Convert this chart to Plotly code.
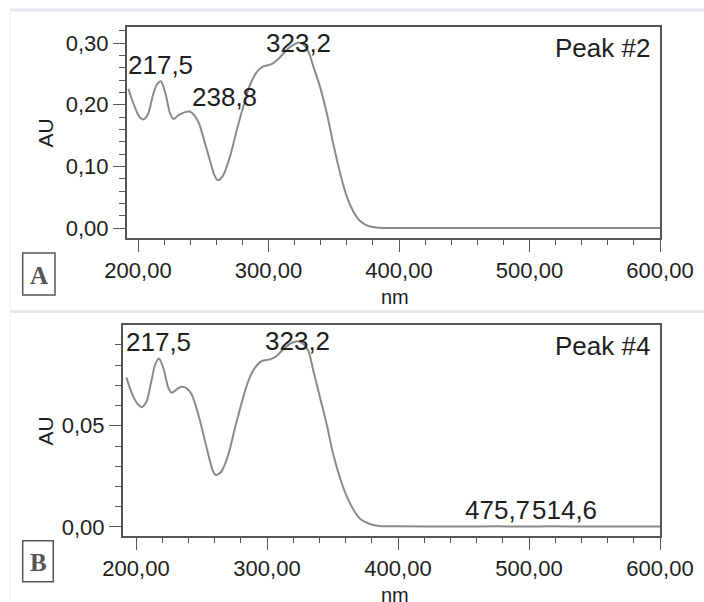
import numpy as np
import plotly.graph_objects as go

# ---------------- data ----------------
wl_A = [192.6, 196.5, 200.3, 202.2, 204.1, 206.0, 207.9, 211.8, 214.5, 217.5, 220.7, 224.6, 227.1, 231.0,
        236.1, 238.8, 241.2, 246.3, 251.4, 256.5, 258.6, 260.8, 263.0, 265.4, 270.5, 275.7, 280.7, 285.8,
        291.0, 296.0, 302.5, 307.5, 312.7, 317.5, 323.2, 327.5, 330.6, 334.4, 339.5, 344.7,
        349.8, 354.9, 360.0, 365.0, 370.2, 376.5, 384.2, 400, 450, 500, 550, 600]
au_A = [0.226, 0.202, 0.183, 0.178, 0.176, 0.179, 0.186, 0.218, 0.233, 0.238, 0.221, 0.186, 0.177, 0.183,
        0.188, 0.189, 0.187, 0.172, 0.137, 0.0995, 0.0855, 0.078, 0.0795, 0.086, 0.116, 0.159, 0.197, 0.232,
        0.253, 0.262, 0.266, 0.274, 0.286, 0.295, 0.301, 0.296, 0.286, 0.262, 0.229, 0.186,
        0.135, 0.089, 0.051, 0.027, 0.0115, 0.0034, 0.0008, 0.0003, 0.0002, 0.0002, 0.0001, 0.0001]

wl_B = [192.7, 196.7, 200.5, 202.5, 204.4, 206.3, 208.2, 212.0, 214.5, 217.5, 220.8, 224.7, 227.2, 231.1,
        234.9, 238.7, 242.5, 247.6, 252.7, 256.5, 258.8, 261.1, 263.2, 265.4, 270.5, 275.6, 280.7, 285.7,
        290.8, 295.9, 302.3, 307.4, 312.4, 317.5, 323.2, 327.5, 331.6, 335.4, 340.5, 345.6,
        350.6, 355.7, 360.8, 365.9, 371.0, 378.6, 385.9, 400, 450, 475.7, 500, 514.6, 550, 600]
au_B = [0.0738, 0.0663, 0.0614, 0.0600, 0.0592, 0.0602, 0.0622, 0.0729, 0.0800, 0.0833, 0.0787, 0.0688, 0.0663, 0.0680,
        0.0693, 0.0685, 0.0655, 0.0556, 0.0424, 0.0325, 0.0275, 0.0256, 0.0262, 0.0276, 0.0358, 0.0490, 0.0614, 0.0721,
        0.0787, 0.0820, 0.0828, 0.0845, 0.0878, 0.0905, 0.0918, 0.0905, 0.0870, 0.0771, 0.0639, 0.0506,
        0.0358, 0.0243, 0.0152, 0.0086, 0.0041, 0.0015, 0.0005, 0.0003, 0.0002, 0.0003, 0.0002, 0.0003, 0.0002, 0.0002]

peaks_A = [217.5, 238.8, 323.2]
peaks_B = [217.5, 323.2, 475.7, 514.6]
peak_names = ["Peak #2", "Peak #4"]
panel_letters = ["A", "B"]

# ---------------- layout constants ----------------
W, H = 704, 602
SANS = "Liberation Sans, Arial, sans-serif"
SERIF = "Liberation Serif, Times New Roman, serif"
LINE = "#555555"
TXT = "#1e1e1e"
CURVE = "#8a8a8a"

def px_x(p):
    return p / W

def px_y(p):
    return 1 - p / H

panels = [
    dict(wl=wl_A, au=au_A, peaks=peaks_A, box=(126.7, 660, 27, 238), xr=[191.34, 600],
         yr=[-0.016, 0.326], ydt=0.1, ymin=0.02),
    dict(wl=wl_B, au=au_B, peaks=peaks_B, box=(122.7, 660, 325, 536), xr=[189.85, 600],
         yr=[-0.00446, 0.0998], ydt=0.05, ymin=0.01),
]

fig = go.Figure()
annotations = []
shapes = []

for i, p in enumerate(panels):
    xa = "x" if i == 0 else "x2"
    ya = "y" if i == 0 else "y2"
    xl, xrt, yt, yb = p["box"]
    fig.add_trace(go.Scatter(x=p["wl"], y=p["au"], mode="lines", xaxis=xa, yaxis=ya,
                             line=dict(color=CURVE, width=2, shape="spline", smoothing=0.8),
                             showlegend=False, hoverinfo="skip"))
    axis_common = dict(showline=True, mirror=True, linecolor=LINE, linewidth=1.5,
                       ticks="outside", ticklen=12, tickwidth=1.3, tickcolor=LINE,
                       showgrid=False, zeroline=False, tickformat=".2f", automargin=False,
                       tickfont=dict(family=SANS, size=22, color=TXT))
    xkey = "xaxis" if i == 0 else "xaxis2"
    ykey = "yaxis" if i == 0 else "yaxis2"
    fig.update_layout(**{
        xkey: dict(axis_common, domain=[px_x(xl), px_x(xrt)], range=p["xr"], anchor=ya,
                   tickmode="linear", tick0=200, dtick=100,
                   minor=dict(ticks="outside", ticklen=5, tickwidth=1.2, tickcolor=LINE,
                              dtick=20, tick0=200, showgrid=False)),
        ykey: dict(axis_common, domain=[px_y(yb), px_y(yt)], range=p["yr"], anchor=xa,
                   tickmode="linear", tick0=0, dtick=p["ydt"],
                   minor=dict(ticks="outside", ticklen=6, tickwidth=1.2, tickcolor=LINE,
                              dtick=p["ymin"], tick0=0, showgrid=False)),
    })

    # peak labels
    upp = (p["yr"][1] - p["yr"][0]) / (yb - yt)  # data units per pixel
    prev_right = None
    prev_y = None
    for k, pk in enumerate(p["peaks"]):
        val = float(np.interp(pk, p["wl"], p["au"]))
        yc = min(val + 16.5 * upp, p["yr"][1] - 15.5 * upp)
        txt = f"{pk:.1f}".replace(".", ",")
        if i == 0 and pk == 238.8:
            annotations.append(dict(x=pk, y=val, xref=xa, yref=ya, text=txt, showarrow=True,
                                    arrowhead=0, arrowwidth=1, arrowcolor="#999999",
                                    ax=36, ay=-15, standoff=0,
                                    font=dict(family=SANS, size=26, color=TXT)))
            continue
        scale = (xrt - xl) / (p["xr"][1] - p["xr"][0])
        cx = xl + (pk - p["xr"][0]) * scale
        w = 67
        shift = 0
        if prev_right is not None and cx - w / 2 < prev_right and abs(yc - prev_y) < 10 * upp:
            shift = prev_right - (cx - w / 2)
        prev_right = cx + shift + w / 2
        prev_y = yc
        annotations.append(dict(x=pk, y=yc, xref=xa, yref=ya, text=txt, showarrow=False,
                                xanchor="center", yanchor="middle", xshift=shift,
                                font=dict(family=SANS, size=26, color=TXT)))

    # Peak name
    annotations.append(dict(x=1, y=1, xref=f"{xa} domain", yref=f"{ya} domain",
                            text=peak_names[i], showarrow=False, xanchor="right",
                            yanchor="top", xshift=-8, yshift=-4,
                            font=dict(family=SANS, size=26, color=TXT)))
    # Axis titles
    annotations.append(dict(x=px_x(45), y=px_y((yt + yb) / 2 + 1), xref="paper", yref="paper",
                            text="AU", textangle=-90, showarrow=False,
                            xanchor="center", yanchor="middle",
                            font=dict(family=SANS, size=21, color=TXT)))
    annotations.append(dict(x=px_x(395), y=px_y(yb + 59), xref="paper", yref="paper",
                            text="nm", showarrow=False, xanchor="center", yanchor="middle",
                            font=dict(family=SANS, size=20, color=TXT)))

# panel letter boxes
letter_boxes = [(22.7, 55.0, 253, 295), (22.7, 53.3, 540.7, 581.7)]
for letter, (x0, x1, y0, y1) in zip(panel_letters, letter_boxes):
    shapes.append(dict(type="rect", xref="paper", yref="paper", x0=px_x(x0), x1=px_x(x1),
                       y0=px_y(y1), y1=px_y(y0), line=dict(color=LINE, width=1.5)))
    annotations.append(dict(x=px_x((x0 + x1) / 2), y=px_y((y0 + y1) / 2 + 1), xref="paper",
                            yref="paper", text=f"<b>{letter}</b>", showarrow=False,
                            xanchor="center", yanchor="middle",
                            font=dict(family=SERIF, size=25, color="#555555")))

# faint page separators
sep = "#e5e8ed"
shapes.append(dict(type="line", xref="paper", yref="paper", x0=px_x(10), x1=1,
                   y0=px_y(10), y1=px_y(10), line=dict(color=sep, width=3)))
shapes.append(dict(type="line", xref="paper", yref="paper", x0=px_x(10), x1=1,
                   y0=px_y(311.5), y1=px_y(311.5), line=dict(color=sep, width=3)))
shapes.append(dict(type="line", xref="paper", yref="paper", x0=px_x(10), x1=px_x(10),
                   y0=0, y1=px_y(10), line=dict(color="#eef0f3", width=1)))

fig.update_layout(width=W, height=H,
                  margin=dict(l=0, r=0, t=0, b=0, pad=0, autoexpand=False),
                  paper_bgcolor="white", plot_bgcolor="white", separators=",.",
                  annotations=annotations, shapes=shapes, showlegend=False)

fig.write_html("out.html")
